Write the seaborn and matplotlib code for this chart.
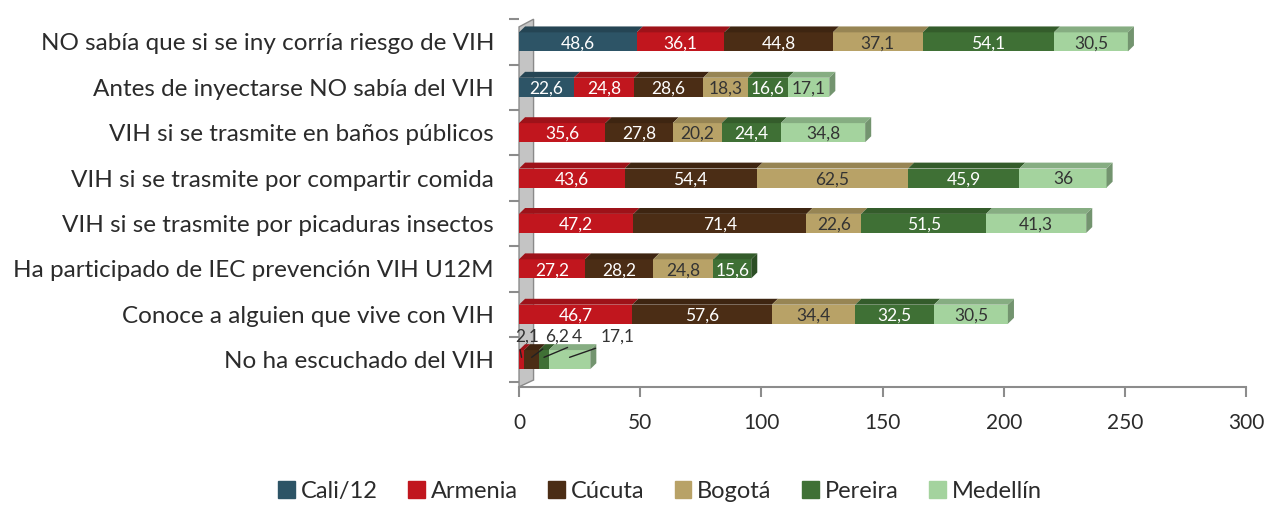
import numpy as np
import pandas as pd
import matplotlib
matplotlib.use("Agg")
import matplotlib.pyplot as plt
from matplotlib.patches import Polygon
from matplotlib.colors import to_rgb
import seaborn as sns

# ---- data -------------------------------------------------------------
categories = [
    "NO sabía que si se iny corría riesgo de VIH",
    "Antes de inyectarse NO sabía del VIH",
    "VIH si se trasmite en baños públicos",
    "VIH si se trasmite por compartir comida",
    "VIH si se trasmite por picaduras insectos",
    "Ha participado de IEC prevención VIH U12M",
    "Conoce a alguien que vive con VIH",
    "No ha escuchado del VIH",
]
series_names = ["Cali/12", "Armenia", "Cúcuta", "Bogotá", "Pereira", "Medellín"]

# None = city not reported for that item
cali     = [48.6, 22.6, None, None, None, None, None, None]
armenia  = [36.1, 24.8, 35.6, 43.6, 47.2, 27.2, 46.7, 2.1]
cucuta   = [44.8, 28.6, 27.8, 54.4, 71.4, 28.2, 57.6, 6.2]
bogota   = [37.1, 18.3, 20.2, 62.5, 22.6, 24.8, 34.4, None]
pereira  = [54.1, 16.6, 24.4, 45.9, 51.5, 15.6, 32.5, 4.0]
medellin = [30.5, 17.1, 34.8, 36.0, 41.3, None, 30.5, 17.1]

series_values = [cali, armenia, cucuta, bogota, pereira, medellin]
colors = ["#2D5466", "#C1161E", "#4B2D15", "#B8A267", "#3F7035", "#A4D39E"]
label_colors = ["white", "white", "white", "#333333", "white", "#333333"]

x_ticks = [0, 50, 100, 150, 200, 250, 300]

# ---- table --------------------------------------------------------------
vals = np.array([[np.nan if v is None else v for v in s] for s in series_values])
filled = np.nan_to_num(vals)
cum = np.cumsum(filled, axis=0)
starts = cum - filled
df = pd.DataFrame({"categoria": categories})
for k, name in enumerate(series_names):
    df[name] = cum[k]

# ---- figure -------------------------------------------------------------
sns.set_theme(style="white")
plt.rcParams["font.family"] = ["Lato", "DejaVu Sans"]
fig = plt.figure(figsize=(12.69, 5.05), dpi=100)
ax = fig.add_axes([0.409, 0.234, 0.573, 0.737])

bar_h = 0.42
# stacked bars: draw cumulative totals from the outermost series inwards
for k in range(len(series_names) - 1, -1, -1):
    sns.barplot(data=df, x=series_names[k], y="categoria", order=categories,
                color=colors[k], width=bar_h, linewidth=0, saturation=1,
                orient="h", ax=ax, zorder=2)

ax.set_xlim(0, 300)
ax.set_ylim(7.6, -0.6)

# pseudo-3D faces on every segment
dx, dy = 2.5, 0.13


def shade(c, f):
    r, g, b = to_rgb(c)
    return (r * f, g * f, b * f)


for i in range(len(categories)):
    present = [k for k in range(len(series_names)) if filled[k, i] > 0]
    for k in present:
        left, w = starts[k, i], filled[k, i]
        top = i - bar_h / 2
        ax.add_patch(Polygon([(left, top), (left + dx, top - dy),
                              (left + w + dx, top - dy), (left + w, top)],
                             closed=True, facecolor=shade(colors[k], 0.82),
                             edgecolor="none", zorder=3))
    k = present[-1]
    right = cum[k, i]
    top, bot = i - bar_h / 2, i + bar_h / 2
    ax.add_patch(Polygon([(right, top), (right + dx, top - dy),
                          (right + dx, bot - dy), (right, bot)],
                         closed=True, facecolor=shade(colors[k], 0.7),
                         edgecolor="none", zorder=3))

# value labels (decimal comma)
def fmt(v):
    return (f"{v:.1f}".rstrip("0").rstrip(".")).replace(".", ",")


small_row = len(categories) - 1
small_offsets = {1: 3.5, 2: 15.5, 4: 24.0, 5: 40.5}
for i in range(len(categories)):
    for k in range(len(series_names)):
        v = vals[k, i]
        if np.isnan(v):
            continue
        xc = starts[k, i] + v / 2
        if i == small_row:
            ax.annotate(fmt(v), xy=(xc, i - 0.05),
                        xytext=(small_offsets[k], i - 0.5),
                        ha="center", va="center", fontsize=12.5,
                        color="#333333",
                        arrowprops=dict(arrowstyle="-", color="#222222", lw=1,
                                        shrinkA=1, shrinkB=0,
                                        relpos=(0.15, 0.0)),
                        zorder=5)
        else:
            ax.text(xc, i + 0.03, fmt(v), ha="center", va="center",
                    fontsize=12.5, color=label_colors[k], zorder=5)

# grey side wall of the category axis
wall = Polygon([(-0.0, 7.6), (0.02, 7.45), (0.02, -0.5), (0.0, -0.33)],
               closed=True, transform=ax.get_yaxis_transform(),
               facecolor="#C4C4C4", edgecolor="#8A8A8A", lw=1,
               clip_on=False, zorder=1)
ax.add_patch(wall)

# axes styling
for s in ["top", "right", "left"]:
    ax.spines[s].set_visible(False)
ax.spines["bottom"].set_color("#8C8C8C")
ax.spines["bottom"].set_linewidth(1.5)
ax.set_xticks(x_ticks)
ax.set_xticklabels([str(t) for t in x_ticks])
ax.tick_params(axis="x", bottom=True, length=7, width=1.5, color="#8C8C8C",
               pad=12, labelsize=15, labelcolor="#2B2B2B")
ax.set_yticks(range(len(categories)))
ax.set_yticklabels(categories)
ax.tick_params(axis="y", left=False, pad=12, labelsize=17.5,
               labelcolor="#2B2B2B")
ax.set_yticks(np.arange(-0.5, len(categories), 1.0), minor=True)
ax.tick_params(axis="y", which="minor", left=True, length=7, width=1.5,
               color="#8C8C8C")
ax.set_xlabel("")
ax.set_ylabel("")

handles = [plt.Rectangle((0, 0), 1, 1, color=c) for c in colors]
fig.legend(handles, series_names, loc="center", bbox_to_anchor=(0.52, 0.027),
           ncol=6, frameon=False, fontsize=17, handlelength=0.7,
           handleheight=0.7, handletextpad=0.25, columnspacing=1.3,
           labelcolor="#2B2B2B")

fig.savefig("out.png", dpi=100)
